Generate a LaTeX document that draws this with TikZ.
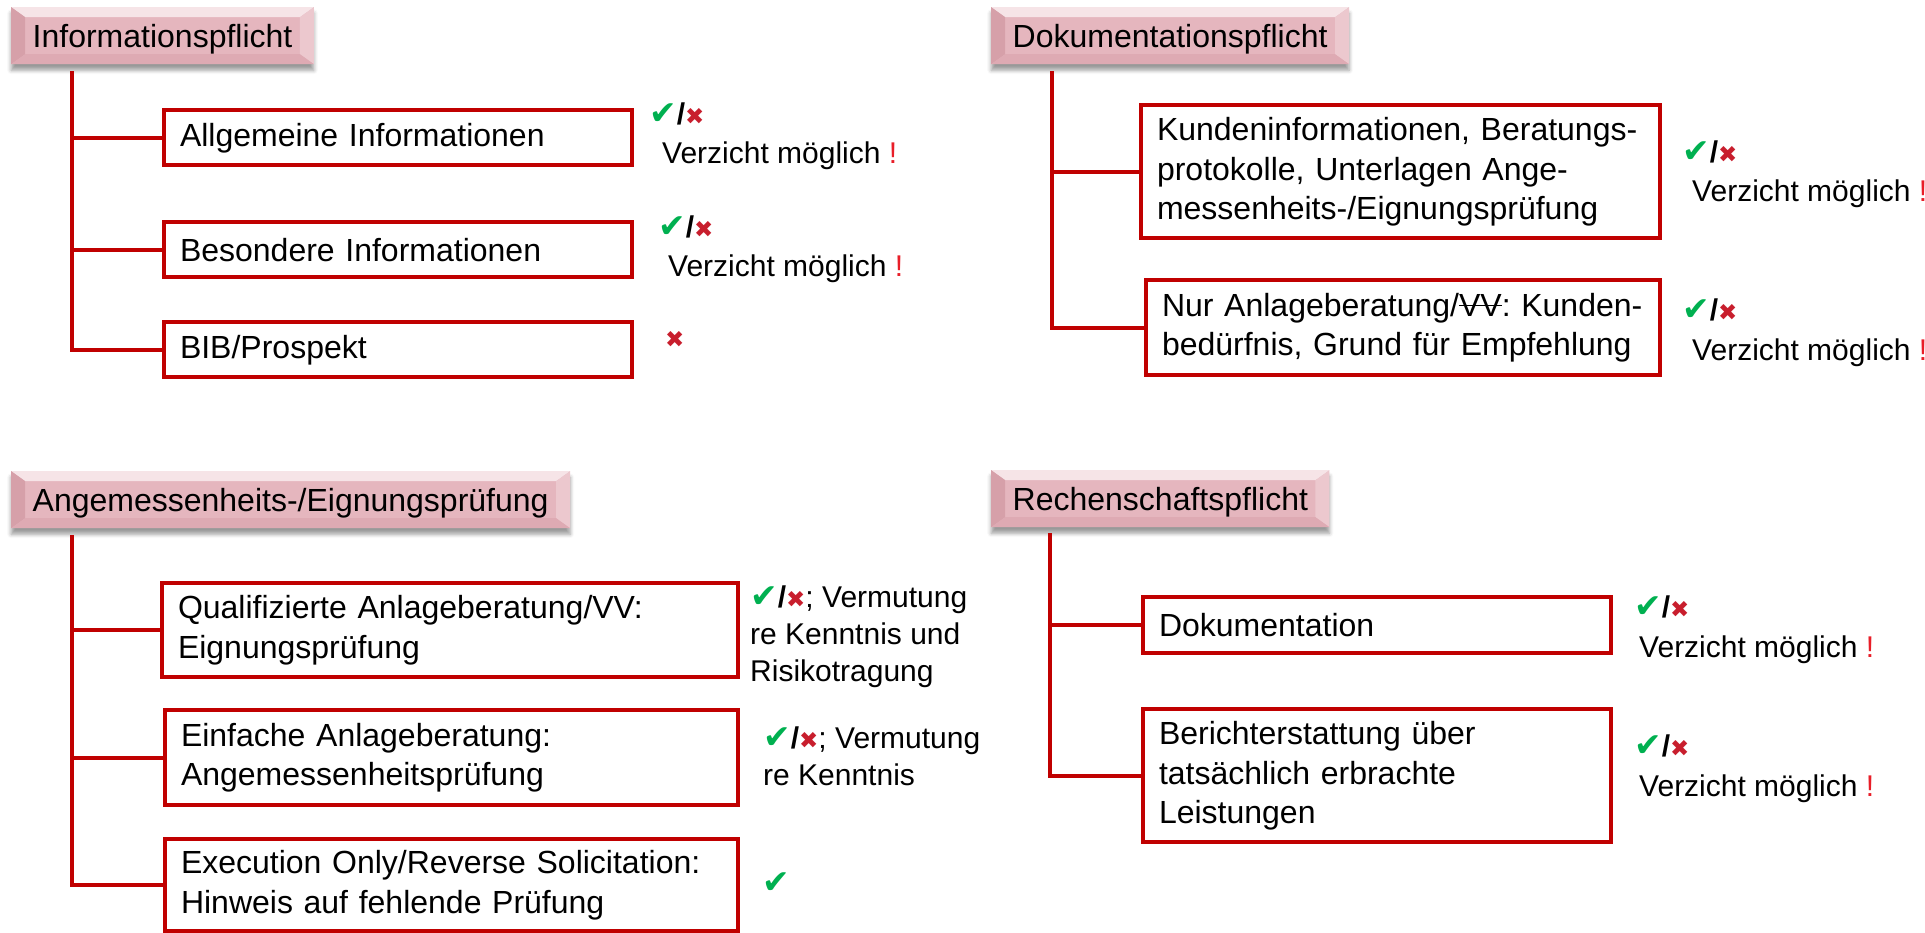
\documentclass[tikz,border=0pt]{standalone}
\usepackage{fontspec}
\setmainfont{Liberation Sans}
\newfontfamily\symbfont{DejaVu Sans}
\frenchspacing
\usetikzlibrary{positioning, shadows.blur}

\definecolor{boxred}{RGB}{192,0,0}
\definecolor{okgreen}{RGB}{0,176,80}
\definecolor{nored}{RGB}{200,30,45}
\definecolor{warnred}{RGB}{232,30,40}
\definecolor{headmid}{RGB}{229,182,190}
\definecolor{headtop}{RGB}{246,228,231}
\definecolor{headleft}{RGB}{214,160,169}
\definecolor{headright}{RGB}{236,200,206}
\definecolor{headbot}{RGB}{222,170,179}

\newcommand{\ja}{{\symbfont\fontsize{33}{33}\selectfont\textcolor{okgreen}{✔}}}
\newcommand{\nein}{{\symbfont\fontsize{23}{23}\selectfont\textcolor{nored}{✖}}}
\newcommand{\janein}{\ja\textbf{/}\nein}
\newcommand{\warn}{\textcolor{warnred}{!}}
\newsavebox{\strikebox}
\newcommand{\strike}[1]{\sbox{\strikebox}{#1}\rlap{\rule[0.33em]{\wd\strikebox}{1.3pt}}\usebox{\strikebox}}

\begin{document}
\begin{tikzpicture}[
        x=1pt, y=-1pt,
        font=\fontsize{32}{39.5}\selectfont,
        head/.style={anchor=north west, fill=headmid, inner xsep=21.5pt, inner ysep=0pt,
            minimum height=57pt, text height=23pt, text depth=0pt,
            blur shadow={shadow xshift=0pt, shadow yshift=-6pt, shadow blur radius=4pt, shadow opacity=40},
            path picture={
                \fill[headtop] (path picture bounding box.north west) -- (path picture bounding box.north east)
                    -- ([shift={(-14pt,-10pt)}]path picture bounding box.north east)
                    -- ([shift={(14pt,-10pt)}]path picture bounding box.north west) -- cycle;
                \fill[headleft] (path picture bounding box.north west)
                    -- ([shift={(14pt,-10pt)}]path picture bounding box.north west)
                    -- ([shift={(14pt,10pt)}]path picture bounding box.south west)
                    -- (path picture bounding box.south west) -- cycle;
                \fill[headright] (path picture bounding box.north east)
                    -- ([shift={(-14pt,-10pt)}]path picture bounding box.north east)
                    -- ([shift={(-14pt,10pt)}]path picture bounding box.south east)
                    -- (path picture bounding box.south east) -- cycle;
                \fill[headbot] (path picture bounding box.south west)
                    -- ([shift={(14pt,10pt)}]path picture bounding box.south west)
                    -- ([shift={(-14pt,10pt)}]path picture bounding box.south east)
                    -- (path picture bounding box.south east) -- cycle;
            }},
        item/.style={draw=boxred, line width=4pt, fill=white, align=left, inner xsep=16pt, inner ysep=0pt, outer sep=0pt},
        note/.style={anchor=base west, align=left, inner sep=0pt, font=\fontsize{30}{39.5}\selectfont},
        stem/.style={draw=boxred, line width=4pt}
    ]
        \useasboundingbox (0,0) rectangle (1925,933);

        % Informationspflicht
        \node[head] (info) at (11,7) {Informationspflicht};
        \node[item, below right=46pt and 153pt of info.south west, text width=436pt, minimum height=55pt] (allg) {Allgemeine Informationen};
        \node[item, below=57pt of allg.south west, anchor=north west, text width=436pt, minimum height=55pt] (bes) {Besondere Informationen};
        \node[item, below=45pt of bes.south west, anchor=north west, text width=436pt, minimum height=55pt] (bib) {BIB/Prospekt};
        \coordinate[below right=7pt and 61pt of info.south west] (s1);
        \draw[stem] (s1) |- (bib.west);
        \draw[stem] (s1 |- allg.west) -- (allg.west);
        \draw[stem] (s1 |- bes.west) -- (bes.west);

        % notes sit on the baseline of their last line
        \node[note] (nallg) at (649,164) {\janein\\\hspace*{13pt}Verzicht möglich \warn};
        \node[note] (nbes) at (658,277) {\janein\\\hspace*{10pt}Verzicht möglich \warn};
        \node[note] (nbib) at (665,347) {\nein};

        % Dokumentationspflicht
        \node[head] (doku) at (991,7) {Dokumentationspflicht};
        \node[item, below right=41pt and 150pt of doku.south west, text width=487pt, minimum height=133pt] (kunden) {Kundeninformationen, Beratungs-\\protokolle, Unterlagen Ange-\\messenheits-/Eignungsprüfung};
        \node[item, below right=42pt and 5pt of kunden.south west, text width=482pt, minimum height=95pt] (nur) {Nur Anlageberatung/\strike{VV}: Kunden-\\bedürfnis, Grund für Empfehlung};
        \coordinate[below right=7pt and 61pt of doku.south west] (s2);
        \draw[stem] (s2) |- (nur.west);
        \draw[stem] (s2 |- kunden.west) -- (kunden.west);

        \node[note] (nkunden) at (1682,202) {\janein\\\hspace*{10pt}Verzicht möglich \warn};
        \node[note] (nnur) at (1682,360) {\janein\\\hspace*{10pt}Verzicht möglich \warn};

        % Angemessenheits-/Eignungspruefung
        \node[head] (pruef) at (11,471) {Angemessenheits-/Eignungsprüfung};
        \node[item, below right=55pt and 151pt of pruef.south west, text width=544pt, minimum height=94pt] (quali) {Qualifizierte Anlageberatung/VV:\\Eignungsprüfung};
        \node[item, below right=33pt and 3pt of quali.south west, text width=541pt, minimum height=95pt] (einf) {Einfache Anlageberatung:\\Angemessenheitsprüfung};
        \node[item, below=34pt of einf.south west, anchor=north west, text width=541pt, minimum height=92pt] (exec) {Execution Only/Reverse Solicitation:\\Hinweis auf fehlende Prüfung};
        \coordinate[below right=7pt and 61pt of pruef.south west] (s3);
        \draw[stem] (s3) |- (exec.west);
        \draw[stem] (s3 |- quali.west) -- (quali.west);
        \draw[stem] (s3 |- einf.west) -- (einf.west);

        \node[note, font=\fontsize{30}{37}\selectfont] (nquali) at (750,681) {\janein; Vermutung\\re Kenntnis und\\Risikotragung};
        \node[note, font=\fontsize{30}{37}\selectfont] (neinf) at (763,785) {\janein; Vermutung\\re Kenntnis};
        \node[note] (nexec) at (762,893) {\ja};

        % Rechenschaftspflicht
        \node[head] (rechen) at (991,470) {Rechenschaftspflicht};
        \node[item, below right=70pt and 152pt of rechen.south west, text width=436pt, minimum height=56pt] (doc) {Dokumentation};
        \node[item, below=56pt of doc.south west, anchor=north west, text width=436pt, minimum height=133pt] (bericht) {Berichterstattung über\\tatsächlich erbrachte\\Leistungen};
        \coordinate[below right=6pt and 59pt of rechen.south west] (s4);
        \draw[stem] (s4) |- (bericht.west);
        \draw[stem] (s4 |- doc.west) -- (doc.west);

        \node[note] (ndoc) at (1634,657) {\janein\\\hspace*{5pt}Verzicht möglich \warn};
        \node[note] (nbericht) at (1634,796) {\janein\\\hspace*{5pt}Verzicht möglich \warn};
    \end{tikzpicture}
\end{document}
